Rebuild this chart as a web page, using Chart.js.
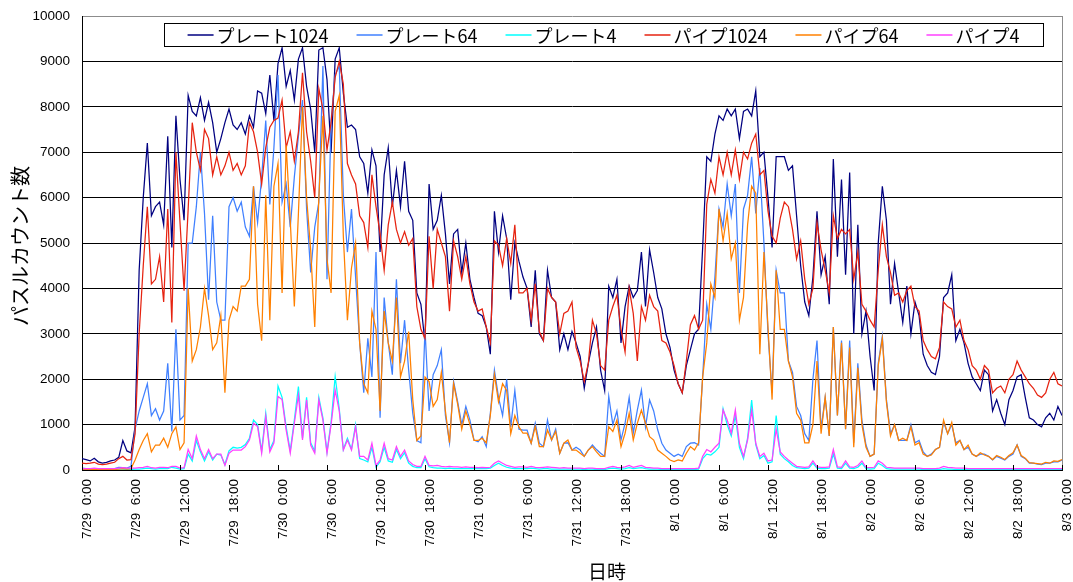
<!DOCTYPE html>
<html>
<head>
<meta charset="utf-8">
<script src="https://cdn.jsdelivr.net/npm/chart.js@4.4.1/dist/chart.umd.min.js"></script>
<style>
html,body{margin:0;padding:0;background:#fff;}
#wrap{width:1073px;height:582px;}
</style>
</head>
<body>
<div id="wrap"><canvas id="c" width="1073" height="582"></canvas></div>
<script>
// ---- data (30-minute samples from 7/29 0:00 to 8/3 0:00) ----
const tickLabels = ['7/29  0:00','7/29  6:00','7/29  12:00','7/29  18:00','7/30  0:00','7/30  6:00','7/30  12:00','7/30  18:00','7/31  0:00','7/31  6:00','7/31  12:00','7/31  18:00','8/1  0:00','8/1  6:00','8/1  12:00','8/1  18:00','8/2  0:00','8/2  6:00','8/2  12:00','8/2  18:00','8/3  0:00'];
const seriesNames = ['プレート1024','プレート64','プレート4','パイプ1024','パイプ64','パイプ4'];
const xTitle = '日時';
const yTitle = 'パスルカウント数';

const plate1024 = [
250,230,200,260,180,150,170,200,220,280,650,420,
380,950,4400,6000,7200,5600,5800,5900,5400,7350,4900,7800,
6400,5500,8250,7900,7800,8200,7700,8100,7650,7000,7300,7650,
7950,7600,7500,7650,7400,7800,7550,8350,8300,7850,8700,7700,
8950,9300,8450,8800,8150,9050,9300,8450,7950,7000,9250,9300,
8600,7000,9050,9300,8300,7550,7600,7500,6900,6750,6100,7050,
6700,4800,6500,7100,5800,6600,5800,6800,5700,5500,3900,3650,
2800,6300,5300,5500,6050,5200,4100,5200,5300,4350,5000,4200,
3800,3450,3400,3150,2550,5700,4800,5600,5100,3750,5000,4600,
4250,4000,3150,4400,3000,2850,4400,3800,3700,2650,3000,2650,
3050,2800,2500,1800,2350,2800,3150,2200,1750,4050,3800,4200,
2800,3600,4050,3800,3950,4800,3600,4850,4350,3800,3550,3000,
2700,2200,1900,1700,2300,2650,3000,3100,4900,6900,6800,7400,
7800,7700,7950,7800,7950,7300,7900,7950,7800,8350,6900,7000,
6000,4900,6900,6900,6900,6600,6700,5600,4500,3700,3400,4250,
5700,4300,4700,3650,6850,4700,6400,4300,6550,3000,5400,3000,
3500,2500,1750,5000,6250,5500,3650,4550,3900,3250,4050,3000,
3700,3400,2550,2300,2150,2100,2500,3800,3900,4300,2850,3100,
2800,2350,2050,1900,1750,2200,2100,1300,1550,1250,1000,1550,
1750,2050,2100,1600,1150,1100,1000,950,1150,1250,1100,1400,
1200];

const plate64 = [
40,30,30,30,20,20,20,20,30,60,50,40,
80,900,1300,1600,1900,1200,1350,1100,1300,2350,850,3100,
1100,1200,5000,5000,5800,7000,5650,3750,5600,3700,3300,3300,
5800,6000,5700,5900,5350,5150,6250,5450,6450,7700,5850,7100,
8700,5900,6300,5350,6450,7350,8150,5750,4350,5350,5900,8900,
4200,7700,8700,8900,6050,4800,5750,4250,2800,1700,2900,2050,
4800,1150,3800,2800,2100,4200,2350,3300,2200,1250,650,600,
3100,1300,2100,2300,2650,1200,600,1950,1500,1000,1400,1100,
660,620,735,515,1250,2200,1600,1200,2000,950,1750,900,
880,880,590,1030,590,515,1100,660,900,370,590,600,
440,500,440,300,440,550,450,370,300,1620,1000,1300,
660,1030,1600,810,1320,1760,950,1540,1300,880,590,440,
370,300,350,300,515,590,600,550,2050,3650,3100,4250,
5750,5350,6300,5600,6300,3900,5750,6050,6900,5650,6650,5000,
3000,1700,4400,3900,3900,2400,2150,1400,1200,800,650,2000,
2850,900,1600,750,3150,1200,2850,900,2850,600,2350,1100,
550,300,350,2350,2950,1550,800,1000,650,650,650,1000,
600,650,400,300,350,450,500,1050,800,1000,600,650,
450,500,350,300,350,350,300,220,300,260,220,300,
350,550,300,250,150,150,130,120,150,150,180,180,
220];

const plate4 = [
10,10,10,10,10,10,10,10,10,20,20,10,
10,20,20,30,40,30,20,30,30,30,60,40,
20,30,350,200,650,400,200,400,220,350,330,120,
420,500,480,500,560,700,1100,1000,420,1250,450,650,
1850,1600,950,420,1100,1840,700,1600,600,420,1600,1150,
400,1050,2060,1350,450,700,460,1000,250,220,180,500,
60,180,500,200,170,450,250,380,150,80,50,50,
250,70,50,40,40,30,40,30,30,30,30,30,
30,30,30,30,40,100,150,100,60,40,30,30,
30,30,40,30,20,30,30,20,20,20,20,20,
20,20,20,10,20,20,10,10,10,30,40,30,
20,30,50,30,40,50,30,20,20,20,10,10,
10,10,10,10,10,10,10,20,250,350,330,400,
500,1350,1000,750,1200,500,250,700,1540,560,250,320,
150,180,1200,350,250,180,100,50,40,30,40,150,
40,30,30,40,350,40,30,150,40,30,60,150,
30,20,30,150,100,30,20,20,20,20,20,20,
20,20,10,10,10,10,10,30,20,20,10,10,
10,10,10,10,10,10,10,10,10,10,10,10,
10,10,10,10,10,10,10,10,10,10,10,10,
10];

const pipe1024 = [
150,140,150,170,130,120,130,150,170,250,300,220,
230,800,3000,4500,5800,4100,4200,4700,3700,5750,3250,7000,
5450,3950,5750,7650,7000,6600,7500,7300,6500,6900,6500,6700,
7000,6600,6750,6500,6700,7650,7450,7000,6300,7100,7550,7700,
7750,8150,7100,7450,6800,7450,8750,7450,6800,6000,8400,7950,
7050,7650,8650,9000,8500,6750,6500,6300,5600,5450,4900,6500,
5800,5200,4400,5400,5900,5300,5000,5250,4950,5100,3600,3100,
2900,5150,4000,5300,5000,4700,3500,5050,4700,4200,4700,4100,
3700,3500,3550,3150,2800,5050,4950,4500,5100,4550,5400,3900,
3900,4000,3300,4100,3050,2850,4000,3800,3700,3000,3450,3500,
3700,2700,2400,1950,2350,3300,3000,2300,2200,3300,3600,3850,
3100,2600,4000,3450,2400,3600,3300,3850,3600,3500,2850,2800,
2600,2300,1900,1700,2400,3200,3400,3100,3300,5850,6400,6100,
6900,6500,7000,6500,7050,6400,7000,6850,7200,7400,6500,6600,
5700,5150,5000,5550,5900,5800,5300,4650,5050,4200,3650,4000,
5450,4850,4400,3900,5600,5100,5300,5200,5300,4200,4800,3650,
3500,3300,3150,4400,5400,4700,4350,3850,3900,3700,3950,4050,
3600,3500,2850,2650,2500,2450,2700,3700,3600,3550,3150,3300,
2850,2650,2300,2200,2000,2300,2200,1700,1800,1850,1700,2000,
2100,2400,2200,2050,1900,1800,1650,1600,1700,2000,2150,1900,
1850];

const pipe64 = [
20,15,15,15,10,10,10,10,15,20,30,20,
30,220,450,650,800,400,550,550,700,500,800,950,
450,600,4000,2400,2650,3150,4000,3400,2650,2800,3400,1700,
3300,3600,3500,4050,4050,4200,6250,3650,2850,6050,3300,6250,
6750,3900,7150,5500,3600,5650,8000,6000,4850,3150,6000,7800,
4650,3900,7900,8250,5150,3300,4450,5000,2800,1900,1700,3500,
3100,1300,3500,2800,2400,3800,2050,2400,3050,1550,650,750,
2050,1950,1400,1550,2150,1300,600,1900,1450,900,1300,1000,
650,650,700,600,1200,2100,1500,1900,1750,800,1200,950,
810,810,590,955,515,515,880,660,850,370,590,660,
440,440,370,300,440,515,400,300,300,955,850,1100,
515,810,1250,660,1030,1320,1030,735,660,440,370,300,
220,185,220,200,370,515,440,600,2050,2800,4100,3800,
5750,5050,5650,4650,5000,3300,3800,5400,6250,6100,2550,4800,
3150,1550,4400,3100,3100,2400,2050,1250,1100,600,600,1000,
2400,800,1600,750,3150,1200,2800,900,2700,500,2250,1000,
500,300,350,2300,2900,1500,750,1000,650,700,650,950,
550,600,350,300,330,450,500,1100,800,1050,550,650,
450,550,350,300,380,330,300,230,320,280,230,320,
380,550,320,260,160,150,140,130,170,150,200,190,
230];

const pipe4 = [
30,30,30,40,30,30,30,30,30,40,50,40,
40,40,50,60,80,50,40,60,60,50,80,80,
40,50,450,250,750,450,250,450,250,350,350,100,
370,440,440,440,515,660,1030,955,370,1180,400,600,
1620,1550,880,370,1030,1650,660,1540,550,370,1540,1100,
370,1000,1760,1300,440,660,440,950,300,300,220,590,
100,220,590,250,220,515,300,440,200,120,80,80,
300,100,90,100,80,70,80,70,70,60,70,60,
60,50,60,50,60,150,200,150,100,80,60,70,
70,60,80,60,50,60,70,60,50,40,50,40,
40,40,40,30,40,40,30,30,30,60,80,60,
50,70,100,60,80,100,60,50,40,40,30,30,
30,30,30,30,30,30,30,40,300,450,400,500,
590,1320,1100,810,1320,590,300,660,1320,590,300,370,
200,220,900,400,300,220,150,80,70,60,70,200,
70,60,60,70,450,70,60,200,70,60,100,200,
60,50,60,200,150,60,50,40,40,40,40,40,
40,40,30,30,30,30,40,80,60,50,40,40,
40,30,30,30,30,30,30,30,30,30,30,30,
30,30,30,30,30,30,30,30,30,30,30,30,
30];

const STEP_HOURS = 0.5;
const TICK_HOURS = 6;

// ---- styles ----
const seriesColors = ['#000080','#4080ff','#00ffff','#e62310','#ff8000','#ff40ff'];
const tickFont = {family: '"Liberation Sans", Arial, sans-serif', size: 13.5};
const jpFont = '"Noto Sans CJK JP", sans-serif';

const seriesValues = [plate1024, plate64, plate4, pipe1024, pipe64, pipe4];
const datasets = seriesValues.map((vals, i) => ({
  label: seriesNames[i],
  data: vals.map((v, k) => ({x: k * STEP_HOURS, y: v})),
  borderColor: seriesColors[i],
  backgroundColor: seriesColors[i],
  borderWidth: 1.25,
  pointRadius: 0,
  tension: 0,
  fill: false,
  order: seriesValues.length - i
}));

const framePlugin = {
  id: 'frame',
  beforeDatasetsDraw(chart) {
    const {ctx, chartArea: a} = chart;
    ctx.save();
    ctx.strokeStyle = '#8c8c8c';
    ctx.lineWidth = 1;
    ctx.beginPath();
    ctx.moveTo(Math.round(a.right) + 0.5, a.top);
    ctx.lineTo(Math.round(a.right) + 0.5, a.bottom);
    ctx.stroke();
    ctx.restore();
  },
  afterDatasetsDraw(chart) {
    const {ctx, chartArea: a} = chart;
    const xs = chart.scales.x;
    ctx.save();
    ctx.strokeStyle = '#000';
    ctx.lineWidth = 1;
    xs.ticks.forEach(t => {
      const px = Math.round(xs.getPixelForValue(t.value)) + 0.5;
      ctx.beginPath();
      ctx.moveTo(px, a.bottom);
      ctx.lineTo(px, a.bottom - 5);
      ctx.stroke();
    });
    ctx.restore();
  }
};

const legendPlugin = {
  id: 'boxLegend',
  afterDatasetsDraw(chart) {
    const ctx = chart.ctx;
    const box = {left: 164, top: 23, width: 879, height: 23};
    const lineLen = 26, lineGap = 3, itemGap = 28;
    ctx.save();
    ctx.fillStyle = '#fff';
    ctx.fillRect(box.left, box.top, box.width, box.height);
    ctx.strokeStyle = '#000';
    ctx.lineWidth = 1;
    ctx.strokeRect(box.left + 0.5, box.top + 0.5, box.width, box.height);
    ctx.font = '18px ' + jpFont;
    ctx.textBaseline = 'middle';
    ctx.textAlign = 'left';
    const items = chart.data.datasets.map(d => ({label: d.label, color: d.borderColor, w: ctx.measureText(d.label).width}));
    const total = items.reduce((s, it) => s + lineLen + lineGap + it.w, 0) + itemGap * (items.length - 1);
    let x = box.left + (box.width - total) / 2;
    const cy = box.top + box.height / 2 + 0.5;
    items.forEach(it => {
      ctx.strokeStyle = it.color;
      ctx.lineWidth = 1.5;
      ctx.beginPath();
      ctx.moveTo(x, cy);
      ctx.lineTo(x + lineLen, cy);
      ctx.stroke();
      x += lineLen + lineGap;
      ctx.fillStyle = '#000';
      ctx.fillText(it.label, x, cy + 1);
      x += it.w + itemGap;
    });
    ctx.restore();
  }
};

const titlePlugin = {
  id: 'titles',
  afterDraw(chart) {
    const ctx = chart.ctx;
    ctx.save();
    ctx.fillStyle = '#000';
    ctx.font = '20px ' + jpFont;
    ctx.textAlign = 'center';
    ctx.textBaseline = 'middle';
    ctx.translate(20, 246);
    ctx.rotate(-Math.PI / 2);
    ctx.fillText(yTitle, 0, 0);
    ctx.restore();
    ctx.save();
    ctx.fillStyle = '#000';
    ctx.font = '19px ' + jpFont;
    ctx.textAlign = 'center';
    ctx.textBaseline = 'middle';
    ctx.fillText(xTitle, 607, 572);
    ctx.restore();
  }
};

const bgPlugin = {
  id: 'bg',
  beforeDraw(chart) {
    const ctx = chart.ctx;
    ctx.save();
    ctx.fillStyle = '#fff';
    ctx.fillRect(0, 0, chart.width, chart.height);
    ctx.restore();
  }
};

new Chart(document.getElementById('c'), {
  type: 'line',
  data: {datasets},
  options: {
    responsive: false,
    animation: false,
    events: [],
    devicePixelRatio: 1,
    layout: {padding: {left: 0, right: 11, top: 16, bottom: 0}},
    plugins: {legend: {display: false}, tooltip: {enabled: false}, title: {display: false}},
    scales: {
      x: {
        type: 'linear',
        min: 0,
        max: (tickLabels.length - 1) * TICK_HOURS,
        afterFit: s => { s.height = 112; s.paddingLeft = 0; s.paddingRight = 0; },
        grid: {display: false, drawTicks: false},
        border: {display: true, color: '#000', width: 1},
        ticks: {
          stepSize: TICK_HOURS,
          autoSkip: false,
          minRotation: 90,
          maxRotation: 90,
          padding: 9,
          labelOffset: 5,
          color: '#000',
          font: tickFont,
          callback: v => tickLabels[Math.round(v / TICK_HOURS)] ?? ''
        }
      },
      y: {
        min: 0,
        max: 10000,
        afterFit: s => { s.width = 82; s.paddingTop = 0; s.paddingBottom = 0; },
        grid: {
          drawTicks: false,
          lineWidth: 1,
          color: c => (c.tick && c.tick.value === 10000) ? '#8c8c8c' : '#000'
        },
        border: {display: true, color: '#000', width: 1},
        ticks: {stepSize: 1000, padding: 12, color: '#000', font: tickFont, callback: v => String(v)}
      }
    }
  },
  plugins: [bgPlugin, framePlugin, legendPlugin, titlePlugin]
});
</script>
</body>
</html>
